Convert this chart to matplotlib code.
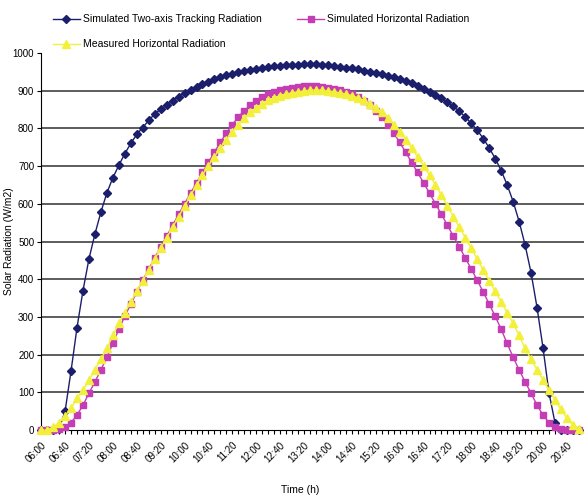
import matplotlib
matplotlib.use("Agg")
import matplotlib.pyplot as plt
import numpy as np

# time stamps every 10 minutes, 06:00 .. 21:00
times = ["%02d:%02d" % (6 + (m // 60), m % 60) for m in range(0, 910, 10)]

# simulated two-axis tracking radiation (W/m2)
tracking = [
    0, 0, 0, 3, 50, 157, 272, 370, 454, 520,
    578, 629, 669, 702, 733, 760, 784, 802, 821, 838,
    851, 861, 873, 884, 893, 902, 910, 918, 924, 930,
    936, 941, 945, 949, 952, 955, 958, 960, 962, 964,
    966, 967, 968, 969, 970, 970, 970, 969, 967, 965,
    963, 961, 959, 956, 953, 950, 947, 943, 939, 935,
    930, 925, 919, 913, 905, 897, 889, 880, 869, 858,
    845, 830, 813, 795, 773, 748, 720, 688, 650, 606,
    553, 491, 417, 325, 218, 99, 20, 0, 0, 0, 0,
]

# simulated horizontal radiation (W/m2)
sim_horizontal = [
    0, 0, 0, 2, 8, 20, 40, 66, 98, 128,
    160, 193, 230, 267, 302, 334, 366, 397, 427, 456,
    486, 514, 543, 572, 600, 628, 656, 683, 710, 737,
    763, 788, 810, 830, 847, 861, 873, 883, 891, 897,
    901, 904, 907, 909, 911, 912, 911, 909, 907, 904,
    901, 897, 891, 883, 873, 861, 847, 830, 810, 788,
    763, 737, 710, 683, 656, 628, 600, 572, 543, 514,
    486, 456, 427, 397, 366, 334, 302, 267, 230, 193,
    160, 128, 98, 66, 40, 20, 8, 2, 0, 0, 0,
]

# measured horizontal radiation (W/m2)
measured = [
    0, 0, 8, 20, 38, 58, 84, 106, 133, 160,
    188, 217, 251, 283, 311, 340, 368, 396, 424, 453,
    482, 510, 538, 566, 594, 622, 650, 676, 701, 725,
    748, 770, 791, 810, 827, 842, 854, 865, 874, 881,
    887, 891, 894, 897, 899, 901, 902, 901, 899, 897,
    894, 891, 887, 881, 874, 865, 854, 842, 827, 810,
    791, 770, 748, 725, 701, 676, 650, 622, 594, 566,
    538, 510, 482, 453, 424, 396, 368, 340, 311, 283,
    251, 217, 188, 160, 133, 106, 80, 55, 32, 14, 4,
]

plt.rcParams["font.family"] = ["Liberation Sans", "DejaVu Sans"]

fig = plt.figure(figsize=(5.84, 4.99), dpi=100)
ax = fig.add_axes([0.0705, 0.138, 0.9295, 0.756])

x = np.arange(len(times))

l1, = ax.plot(x, tracking, color="#1B1F6B", linewidth=1.0, marker="D", markersize=4.2,
              label="Simulated Two-axis Tracking Radiation", clip_on=False, zorder=3)
l2, = ax.plot(x, sim_horizontal, color="#C43DB4", linewidth=1.0, marker="s", markersize=4.6,
              label="Simulated Horizontal Radiation", clip_on=False, zorder=4)
l3, = ax.plot(x, measured, color="#F2F03A", linewidth=1.0, marker="^", markersize=5.2,
              label="Measured Horizontal Radiation", clip_on=False, zorder=5)

ax.set_xlim(0, 90.86)
ax.set_ylim(0, 1000)
ax.set_yticks(range(0, 1001, 100))
ax.tick_params(axis="y", direction="out", length=3, labelsize=7, pad=2)
for yv in range(100, 1000, 100):
    ax.axhline(yv, color="#303030", linewidth=1.1, zorder=1)

ax.set_xticks(x)
ax.set_xticklabels([t if i % 4 == 0 else "" for i, t in enumerate(times)],
                   rotation=45, ha="right", va="top", rotation_mode="anchor",
                   fontsize=7)
ax.tick_params(axis="x", direction="out", length=3, pad=4)

for side in ("top", "right"):
    ax.spines[side].set_visible(False)

ax.set_ylabel("Solar Radiation (W/m2)", fontsize=7.5)
ax.yaxis.set_label_coords(-0.05, 0.5)
fig.text(300 / 584, 1 - 490 / 499, "Time (h)", ha="center", va="center", fontsize=7.5)

# legend: row 1 = tracking, simulated horizontal; row 2 = measured
fig.legend([l1, l3, l2], [l1.get_label(), l3.get_label(), l2.get_label()],
           loc="upper left", bbox_to_anchor=(0.074, 0.99), ncol=2, frameon=False,
           fontsize=7.5, columnspacing=3.4, handlelength=2.6, handletextpad=0.3,
           labelspacing=1.45)

fig.savefig("out.png", dpi=100)
